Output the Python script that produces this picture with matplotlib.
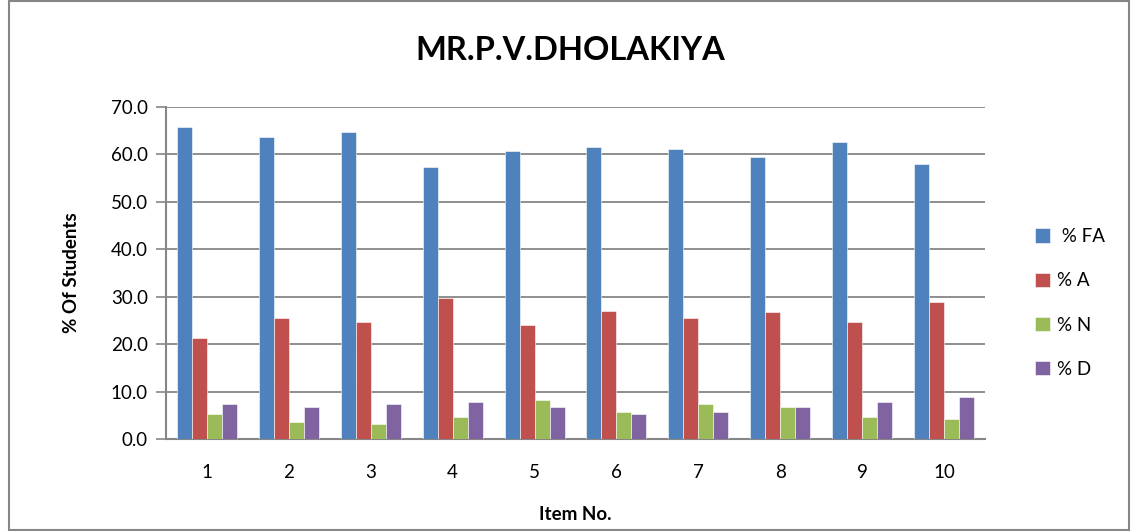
import matplotlib
matplotlib.use("Agg")
import matplotlib.pyplot as plt
import numpy as np
from matplotlib.patches import Rectangle

items = ["1", "2", "3", "4", "5", "6", "7", "8", "9", "10"]
pct_fa = [65.8, 63.7, 64.7, 57.4, 60.6, 61.6, 61.0, 59.4, 62.6, 58.0]
pct_a = [21.4, 25.6, 24.6, 29.8, 24.0, 27.1, 25.6, 26.7, 24.6, 28.8]
pct_n = [5.3, 3.6, 3.2, 4.7, 8.3, 5.7, 7.4, 6.8, 4.7, 4.2]
pct_d = [7.4, 6.9, 7.4, 7.9, 6.8, 5.3, 5.7, 6.8, 7.9, 8.9]
series_names = [" % FA", "% A", "% N", "% D"]
colors = ["#4F81BD", "#C0504D", "#9BBB59", "#8064A2"]

plt.rcParams['font.family'] = ['Lato', 'DejaVu Sans']

fig = plt.figure(figsize=(11.31, 5.31), dpi=100)
ax = fig.add_axes([166/1131, 1-439.3/531, (985-166)/1131, (439.3-106.7)/531])

x = np.arange(len(items))
w = 0.183
series = [pct_fa, pct_a, pct_n, pct_d]
for i, (vals, name, c) in enumerate(zip(series, series_names, colors)):
    ax.bar(x + (i - 1.5) * w, vals, width=w, color=c, label=name,
           edgecolor='white', linewidth=0.4, zorder=3)

ax.set_xlim(-0.5, 9.5)
ax.set_ylim(0, 70)
ax.set_yticks(np.arange(0, 71, 10))
ax.set_yticklabels([f"{v:.1f}" for v in np.arange(0, 71, 10)], fontsize=13.5)
ax.set_xticks(x)
ax.set_xticklabels(items, fontsize=13.5)
ax.tick_params(axis='x', length=0, pad=18)
ax.tick_params(axis='y', length=7, width=1.2, color='#868686', pad=6)
ax.grid(axis='y', color='#868686', linewidth=1.3, zorder=0)
for s in ['top', 'right']:
    ax.spines[s].set_visible(False)
for s in ['left', 'bottom']:
    ax.spines[s].set_color('#868686')
    ax.spines[s].set_linewidth(1.5)
ax.set_axisbelow(True)

ax.set_ylabel("% Of Students", fontsize=13.5, fontweight='bold', labelpad=22)
ax.set_xlabel("Item No.", fontsize=13.5, fontweight='bold', labelpad=18)
fig.text(570/1131, 1-50/531, "MR.P.V.DHOLAKIYA", fontsize=23.5, fontweight='bold',
         ha='center', va='center')

leg = ax.legend(loc='center left', bbox_to_anchor=(1.04, 0.41), frameon=False,
                fontsize=13.5, handlelength=0.8, handleheight=0.8,
                labelspacing=1.45, handletextpad=0.4)

fig.patches.append(Rectangle((9/1131, 1/531), (1129-9)/1131, (529)/531,
                             transform=fig.transFigure, fill=False,
                             edgecolor='#868686', linewidth=1.5))

fig.savefig("out.png", dpi=100)
